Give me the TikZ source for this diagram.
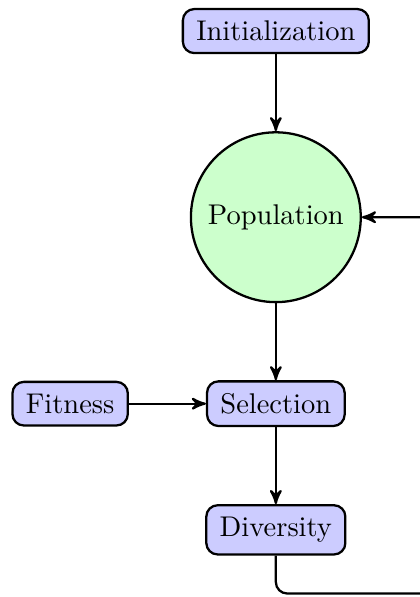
\documentclass[tikz,border=0pt]{standalone}
\usepackage{amsmath}
\usepackage{tikz}
\usetikzlibrary{arrows,calc,positioning}

\begin{document}
\begin{tikzpicture}[node distance=27pt,>=stealth',thick,
		stage/.style={draw,rounded corners,fill=blue!20,inner xsep=4.7pt,inner ysep=4.2pt},
		pool/.style={draw,circle,fill=green!20,minimum size=59.6pt}
		]
			\useasboundingbox (-96.8pt,-198.6pt) rectangle (50.5pt,10.9pt);
			\node[stage] (init) {Initialization};
			\node[pool,below=of init] (pop) {Population};
			\node[stage,below=of pop] (sel) {Selection};
			\node[stage,left=of sel] (fit) {Fitness};
			\node[stage,below=of sel] (div) {Diversity};
			\coordinate (back) at ($(div.south)+(60pt,-13.3pt)$);
			\draw[->] (init) -- (pop);
			\draw[->] (pop) -- (sel);
			\draw[->] (fit) -- (sel);
			\draw[->] (sel) -- (div);
			\draw[->,rounded corners] (div.south) |- (back) |- (pop.east);
		\end{tikzpicture}
\end{document}
